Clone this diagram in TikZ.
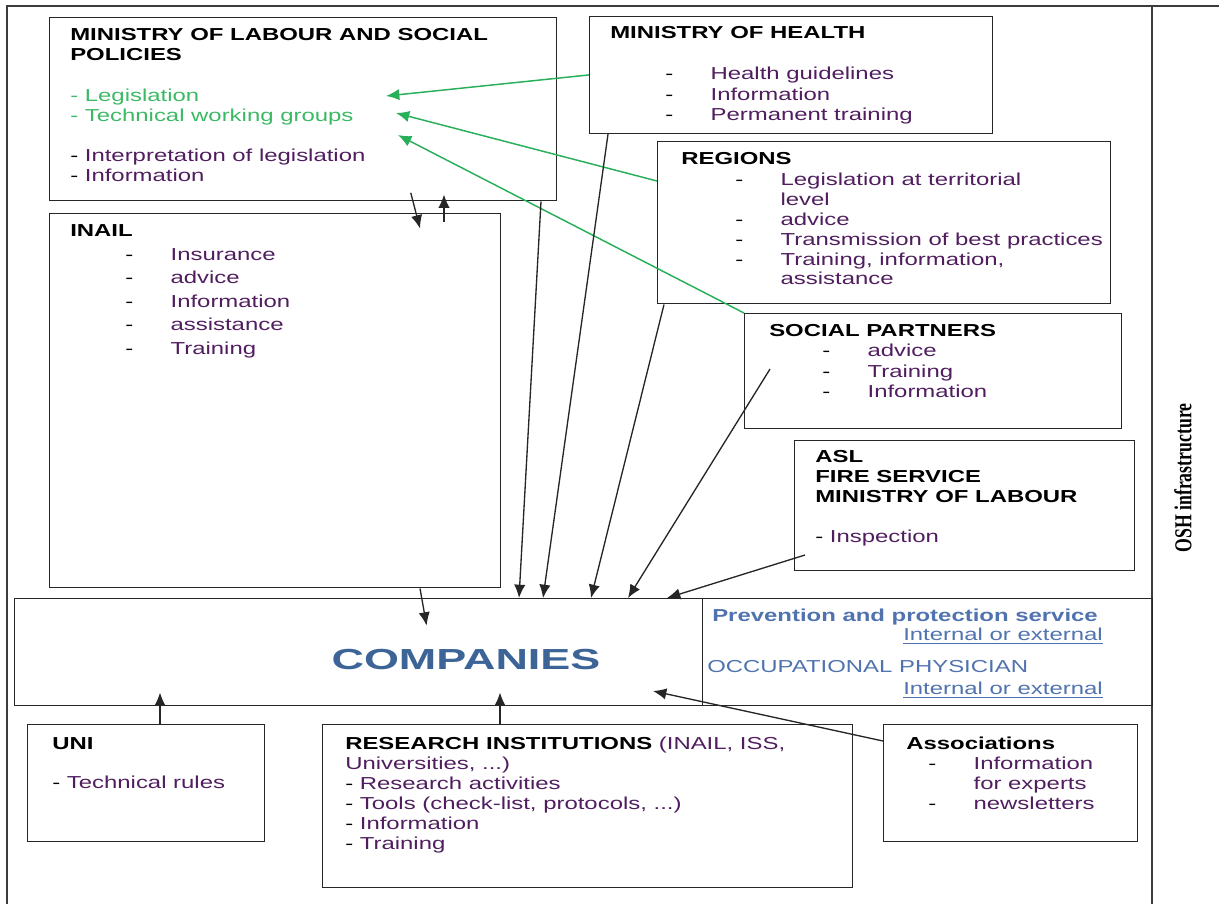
\documentclass[tikz,border=0pt]{standalone}
\usepackage{fontspec}
\setmainfont{Liberation Sans}[FakeStretch=1.38]
\newfontfamily\compfont{Liberation Sans}[FakeStretch=1.55]
\newfontfamily\oshfont{Liberation Serif}
\usetikzlibrary{arrows.meta}

\definecolor{itemtxt}{RGB}{80,30,95}
\definecolor{legtxt}{RGB}{60,185,100}
\definecolor{legarrow}{RGB}{40,175,90}
\definecolor{compblue}{RGB}{61,100,150}
\definecolor{ppsblue}{RGB}{80,115,175}
\definecolor{framegray}{RGB}{60,60,60}

\newcommand\itm[1]{\makebox[34pt][l]{-}{\color{itemtxt}#1}}
\newcommand\dsh[1]{- {\color{itemtxt}#1}}
\newcommand\ind{\hspace*{34pt}}

\begin{document}
\begin{tikzpicture}[x=0.75pt,y=0.75pt,yscale=-1,xscale=1,
  box/.style={draw=black!85, line width=1.1pt, anchor=north west, inner sep=0pt},
  bw/.style={minimum width=#1*0.75pt},
  bh/.style={minimum height=#1*0.75pt},
  txt/.style={anchor=north west, inner sep=0pt, align=left, font=\fontsize{13}{15}\selectfont},
  ttl/.style={txt, font=\fontsize{13}{15}\selectfont\bfseries},
  arr/.style={-{Latex[length=10pt,width=8.5pt]}, line width=1pt, draw=black!85},
  garr/.style={arr, draw=legarrow, line width=1.1pt},
  frame/.style={draw=framegray, line width=1.6pt}]

\useasboundingbox (0,0) rectangle (1219,904);

% frame part
\draw[frame] (7,904) -- (7,6) -- (1219,6);
\draw[frame] (1152,6) -- (1152,904);
\node[rotate=90, inner sep=0pt, font=\oshfont\bfseries\fontsize{13.3}{16}\selectfont] (osh) at (1183,478) {\scalebox{1}[1.37]{OSH infrastructure}};

% ministry of labour part
\node[box, bw=507, bh=183] (mol) at (49,17) {};
\node[ttl] (molttl) at (70,28) {MINISTRY OF LABOUR AND SOCIAL\\POLICIES};
\node[txt, text=legtxt] (molleg) at (70,89) {- Legislation\\- Technical working groups};
\node[txt] (molinfo) at (70,149) {\dsh{Interpretation of legislation}\\\dsh{Information}};

% inail part
\node[box, bw=451, bh=374] (inail) at (49,213) {};
\node[ttl] (inailttl) at (70,224) {INAIL};
\node[txt, font=\fontsize{13}{17.6}\selectfont] (inailitm) at (125,248) {\itm{Insurance}\\\itm{advice}\\\itm{Information}\\\itm{assistance}\\\itm{Training}};

% ministry of health part
\node[box, bw=403, bh=117] (moh) at (589,15.7) {};
\node[ttl] (mohttl) at (610,26) {MINISTRY OF HEALTH};
\node[txt, font=\fontsize{13}{15.4}\selectfont] (mohitm) at (665,67) {\itm{Health guidelines}\\\itm{Information}\\\itm{Permanent training}};

% regions part
\node[box, bw=453, bh=162] (reg) at (657,141) {};
\node[ttl] (regttl) at (681,152) {REGIONS};
\node[txt, font=\fontsize{13}{14.85}\selectfont] (regitm) at (735,173) {\itm{Legislation at territorial}\\\ind{\color{itemtxt}level}\\\itm{advice}\\\itm{Transmission of best practices}\\\itm{Training, information,}\\\ind{\color{itemtxt}assistance}};

% social partners part
\node[box, bw=377, bh=115] (soc) at (744,313) {};
\node[ttl] (socttl) at (769,324) {SOCIAL PARTNERS};
\node[txt, font=\fontsize{13}{15.4}\selectfont] (socitm) at (822,344) {\itm{advice}\\\itm{Training}\\\itm{Information}};

% inspection part
\node[box, bw=340, bh=130] (asl) at (794,440) {};
\node[ttl] (aslttl) at (815,450) {ASL\\FIRE SERVICE\\MINISTRY OF LABOUR};
\node[txt] (aslitm) at (815,530) {\dsh{Inspection}};

% companies part
\node[box, bw=688, bh=107] (comp) at (14,598) {};
\node[inner sep=0pt, text=compblue, font=\compfont\bfseries\fontsize{21.75}{26}\selectfont] (compttl) at (466,660) {COMPANIES};
\node[box, bw=450, bh=107] (pps) at (702,598) {};
\node[ttl, text=ppsblue] (ppsttl) at (712,609) {Prevention and protection service};
\node[txt, text=ppsblue] (ppsint) at (903,628) {\underline{Internal or external}};
\node[txt, text=ppsblue] (physttl) at (707,660) {OCCUPATIONAL PHYSICIAN};
\node[txt, text=ppsblue] (physint) at (903,682) {\underline{Internal or external}};

% bottom part
\node[box, bw=237, bh=117] (uni) at (27,724) {};
\node[ttl] (unittl) at (52,737) {UNI};
\node[txt] (uniitm) at (52,776) {\dsh{Technical rules}};

\node[box, bw=530, bh=163] (res) at (322,724) {};
\node[txt] (resitm) at (345,737) {\textbf{RESEARCH INSTITUTIONS} {\color{itemtxt}(INAIL, ISS,}\\{\color{itemtxt}Universities, ...)}\\\dsh{Research activities}\\\dsh{Tools (check-list, protocols, ...)}\\\dsh{Information}\\\dsh{Training}};

\node[box, bw=254, bh=117] (assoc) at (883,724) {};
\node[ttl] (assocttl) at (906,737) {Associations};
\node[txt] (associtm) at (928,757) {\itm{Information}\\\ind{\color{itemtxt}for experts}\\\itm{newsletters}};

% green arrows
\coordinate (legtip) at (386,96);
\coordinate (twgtip) at (396,113);
\coordinate (twgtipb) at (398,135);
\draw[garr] (moh.west) -- (legtip);
\draw[garr] (reg.west |- 0,181) -- (twgtip);
\draw[garr] (soc.north west) -- (twgtipb);

% black arrows
\draw[arr, shorten <=-6.75pt, shorten >=-12pt] (mol.south -| 413,0) -- (inail.north -| 416,0);
\draw[arr, shorten <=-6.75pt, shorten >=-5.25pt] (inail.north -| 444,0) -- (mol.south -| 444,0);
\draw[arr, shorten >=-21pt] (inail.south -| 420,0) -- (comp.north -| 421.7,0);
\draw[arr] (mol.south -| 541,0) -- (comp.north -| 519,0);
\draw[arr] (moh.south -| 608,0) -- (comp.north -| 543,0);
\draw[arr] (reg.south -| 664,0) -- (comp.north -| 591,0);
\coordinate (socin) at (770,369);
\draw[arr] (socin) -- (comp.north -| 628,0);
\coordinate (aslin) at (805,555);
\draw[arr] (aslin) -- (comp.north -| 667,0);
\draw[arr, shorten >=-10.5pt] (uni.north -| 160,0) -- (comp.south -| 160,0);
\draw[arr, shorten >=-10.5pt] (res.north -| 500,0) -- (comp.south -| 500,0);
\coordinate (asctip) at (653,691);
\draw[arr] (assoc.west |- 0,741) -- (asctip);

\end{tikzpicture}
\end{document}
